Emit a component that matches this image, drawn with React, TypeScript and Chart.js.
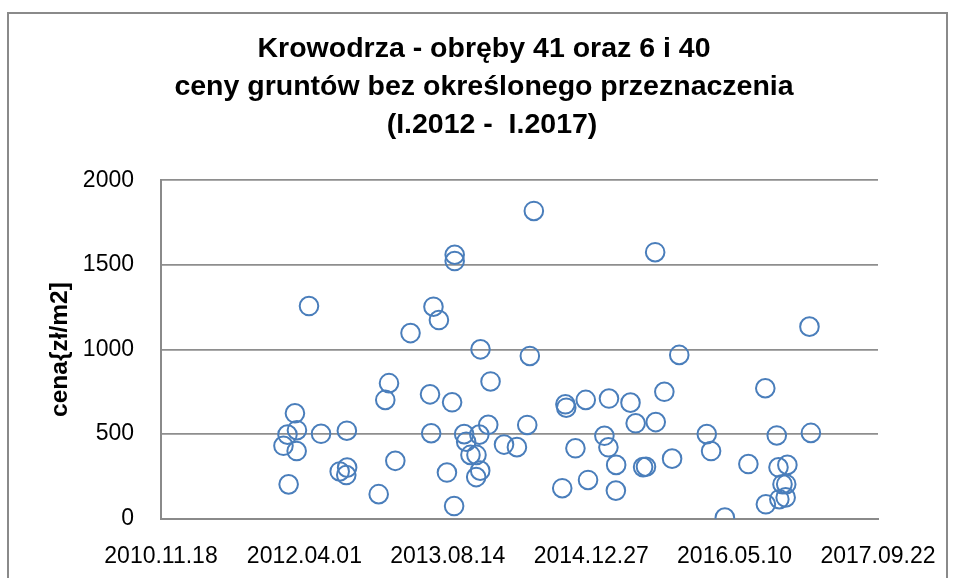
import React, { useEffect, useRef } from 'react';
import { Chart, registerables } from 'chart.js';

Chart.register(...registerables);

const FONT = "'Liberation Sans', Arial, sans-serif";

const titleLines = [
  'Krowodrza - obręby 41 oraz 6 i 40',
  'ceny gruntów bez określonego przeznaczenia',
  '(I.2012 -  I.2017)',
];
const yAxisTitle = 'cena{zł/m2]';
const xTickLabels = ['2010.11.18', '2012.04.01', '2013.08.14', '2014.12.27', '2016.05.10', '2017.09.22'];
const yTickStep = 500;
const yMax = 2000;

const saleDates = [
  '2012-01-19', '2012-02-02', '2012-02-06', '2012-02-28', '2012-03-06', '2012-03-05',
  '2012-04-17', '2012-05-29', '2012-08-02', '2012-08-28', '2012-08-25', '2012-08-27',
  '2012-12-16', '2013-01-08', '2013-01-21', '2013-02-12', '2013-04-06', '2013-06-13',
  '2013-06-17', '2013-06-25', '2013-07-14', '2013-08-11', '2013-08-29', '2013-09-05',
  '2013-09-07', '2013-09-07', '2013-10-10', '2013-10-17', '2013-11-01', '2013-11-22',
  '2013-11-21', '2013-12-05', '2013-12-02', '2013-12-06', '2014-01-02', '2014-01-10',
  '2014-02-26', '2014-04-12', '2014-05-18', '2014-05-27', '2014-06-10', '2014-09-17',
  '2014-09-28', '2014-10-01', '2014-11-02', '2014-12-08', '2014-12-16', '2015-02-11',
  '2015-02-25', '2015-02-27', '2015-03-24', '2015-03-23', '2015-05-13', '2015-05-31',
  '2015-06-26', '2015-07-06', '2015-08-07', '2015-08-09', '2015-09-08', '2015-10-05',
  '2015-10-30', '2016-02-03', '2016-02-18', '2016-04-06', '2016-06-27', '2016-08-25',
  '2016-08-27', '2016-10-04', '2016-10-10', '2016-11-10', '2016-10-24', '2016-11-06',
  '2016-10-13', '2016-11-04', '2017-01-26', '2017-01-31',
];

const prices = [
  431, 497, 203, 623, 523, 400,
  1257, 502, 279, 302, 258, 520,
  145, 702, 801, 342, 1097, 735,
  505, 1253, 1174, 273, 688, 75,
  1560, 1523, 500, 455, 377, 377,
  246, 284, 497, 1001, 555, 811,
  438, 423, 554, 962, 1819, 180,
  676, 656, 416, 702, 229, 490,
  422, 710, 318, 166, 686, 564,
  305, 307, 1575, 571, 750, 355,
  968, 500, 400, 7, 323, 771,
  85, 492, 304, 318, 204, 204,
  115, 126, 1135, 507,
];

// Excel-style serial day number of a date string
function toSerial(s: string): number {
  const [y, m, d] = s.split('-').map(Number);
  return Math.round((Date.UTC(y, m - 1, d) - Date.UTC(1899, 11, 30)) / 86400000);
}

const xMin = toSerial('2010-11-18');
const xMax = toSerial('2017-09-22');

const framePlugin = {
  id: 'frameAndTitle',
  beforeDraw(chart: any) {
    const ctx = chart.ctx as CanvasRenderingContext2D;
    ctx.save();
    ctx.strokeStyle = '#8a8a8a';
    ctx.lineWidth = 2;
    ctx.strokeRect(8, 13, 939, 640);
    ctx.fillStyle = '#000000';
    ctx.font = `bold 28.5px ${FONT}`;
    ctx.textAlign = 'center';
    ctx.textBaseline = 'alphabetic';
    const baselines = [57, 95, 133];
    const centers = [484, 484, 492];
    titleLines.forEach((line, i) => ctx.fillText(line, centers[i], baselines[i]));
    ctx.restore();
  },
};

export default function App() {
  const canvasRef = useRef<HTMLCanvasElement | null>(null);

  useEffect(() => {
    const canvas = canvasRef.current;
    if (!canvas) return;
    const points = saleDates.map((d, i) => ({ x: toSerial(d), y: prices[i] }));
    const chart = new Chart(canvas, {
      type: 'scatter',
      data: {
        datasets: [
          {
            label: 'cena',
            data: points,
            pointStyle: 'circle',
            pointRadius: 9.3,
            pointHoverRadius: 9.3,
            pointBorderWidth: 2,
            borderColor: '#4a7ebb',
            backgroundColor: 'rgba(0,0,0,0)',
          },
        ],
      },
      options: {
        animation: false,
        responsive: false,
        devicePixelRatio: 1,
        layout: { padding: { left: 10, right: 77, top: 180.3, bottom: 0 } },
        plugins: {
          legend: { display: false },
          title: { display: false },
          tooltip: { enabled: false },
        },
        scales: {
          x: {
            type: 'linear',
            min: xMin,
            max: xMax,
            ticks: {
              stepSize: 500,
              padding: 24,
              color: '#000000',
              font: { family: FONT, size: 23 },
              maxRotation: 0,
              autoSkip: false,
              callback: (_v: any, i: number) => xTickLabels[i],
            },
            grid: { display: false, drawTicks: false },
            border: { display: true, color: '#8a8a8a', width: 2 },
            afterFit: (scale: any) => {
              scale.height = 59.3;
              scale.paddingLeft = 0;
              scale.paddingRight = 0;
            },
          },
          y: {
            type: 'linear',
            min: 0,
            max: yMax,
            ticks: {
              stepSize: yTickStep,
              padding: 27,
              color: '#000000',
              font: { family: FONT, size: 23 },
              callback: (v: any) => String(v),
            },
            grid: { color: '#8e8e8e', lineWidth: 1.8, drawTicks: false },
            border: { display: true, color: '#8a8a8a', width: 2 },
            title: {
              display: true,
              text: yAxisTitle,
              color: '#000000',
              font: { family: FONT, size: 24.5, weight: 'bold' },
              padding: { top: 36, bottom: 0 },
            },
            afterFit: (scale: any) => {
              scale.width = 151;
              scale.paddingTop = 0;
              scale.paddingBottom = 0;
            },
          },
        },
      },
      plugins: [framePlugin],
    });
    return () => chart.destroy();
  }, []);

  return (
    <div style={{ position: 'absolute', left: 0, top: 0, width: 955, height: 578, background: '#ffffff' }}>
      <canvas ref={canvasRef} width={955} height={578} style={{ width: 955, height: 578, display: 'block' }} />
    </div>
  );
}
